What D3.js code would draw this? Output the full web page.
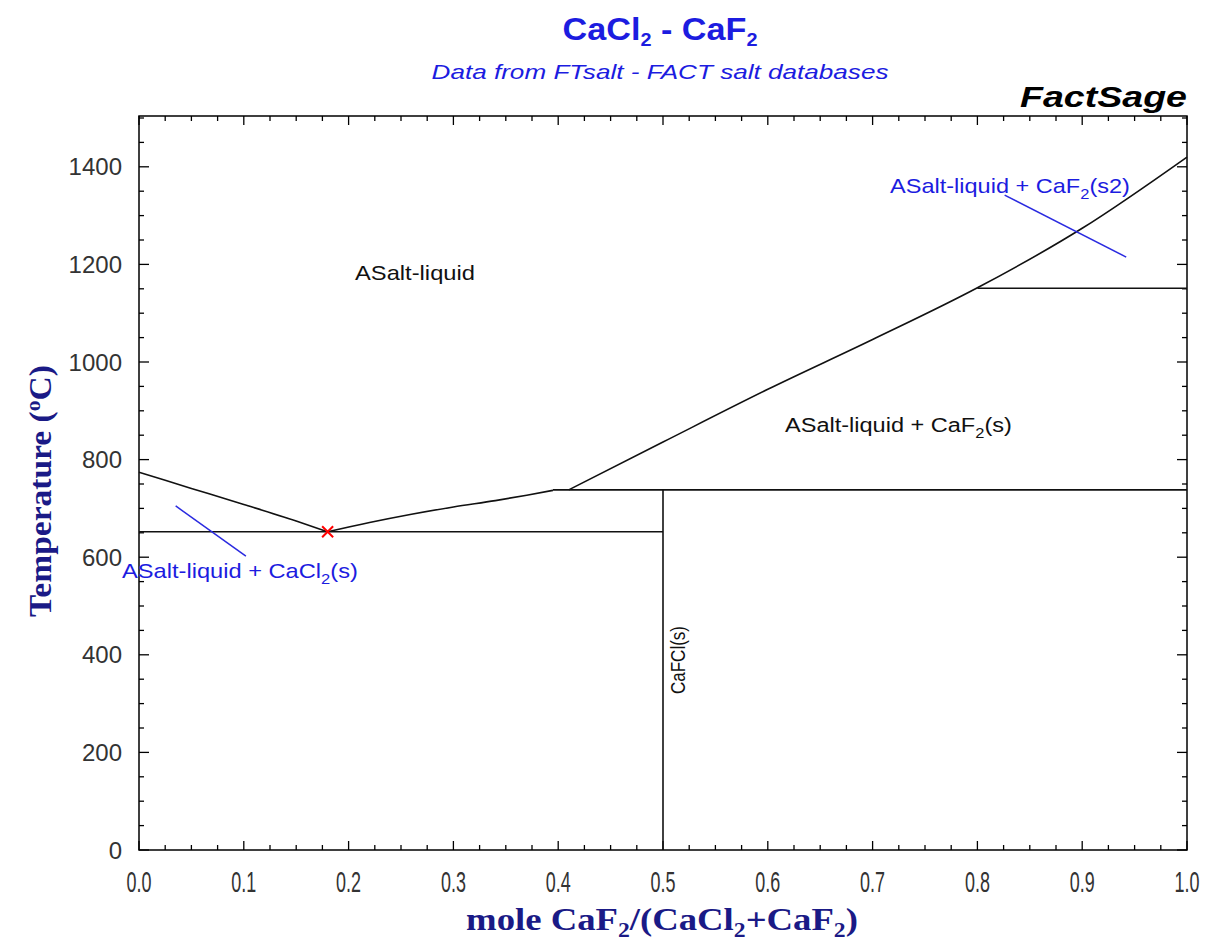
<!DOCTYPE html>
<html>
<head>
<meta charset="utf-8">
<script src="https://cdn.jsdelivr.net/npm/d3@7"></script>
<style>
  body { margin: 0; background: #fff; }
  svg { display: block; }
</style>
</head>
<body>
<div id="chart"></div>
<script>
// ------ Data ------
const xTicks = [0, 0.1, 0.2, 0.3, 0.4, 0.5, 0.6, 0.7, 0.8, 0.9, 1.0];
const yTicks = [0, 200, 400, 600, 800, 1000, 1200, 1400];

// CaCl2 liquidus down to the eutectic
const liqCaCl2 = [[0, 774], [0.05, 741], [0.1, 708], [0.15, 674], [0.18, 652]];
// CaFCl liquidus from eutectic to peritectic
const liqCaFCl = [[0.18, 652], [0.22, 671], [0.26, 688], [0.3, 703], [0.34, 716], [0.37, 727], [0.395, 737]];
// CaF2 liquidus
const liqCaF2 = [[0.41, 738], [0.5, 836], [0.6, 944], [0.7, 1046], [0.8, 1152], [0.9, 1274], [1.0, 1420]];

const eutectic = { x: 0.18, T: 652 };
const invariants = [
  { x1: 0, x2: 0.5, T: 652 },     // eutectic
  { x1: 0.395, x2: 1.0, T: 738 }, // peritectic
  { x1: 0.8, x2: 1.0, T: 1151 }   // CaF2 s -> s2
];
const compound = { x: 0.5, T0: 0, T1: 738 }; // CaFCl

const blueLeaders = [
  [[0.035, 705], [0.102, 602]],
  [[0.826, 1342], [0.942, 1215]]
];

// ------ Layout ------
const W = 1215, H = 943;
const m = { left: 139, right: 1187, top: 116, bottom: 850 };

const svg = d3.select("#chart").append("svg")
  .attr("width", W).attr("height", H);

const x = d3.scaleLinear().domain([0, 1]).range([m.left, m.right]);
const y = d3.scaleLinear().domain([0, 1500]).range([m.bottom, 118]);

const sans = "'Liberation Sans', Arial, sans-serif";
const serif = "'Liberation Serif', 'Times New Roman', serif";
const blue = "#1c1ce0";
const navy = "#1a1a86";

// text placed at an anchor, optionally rotated, stretched to a target width
function txt(ax, ay, opts) {
  const g = svg.append("g");
  const t = g.append("text")
    .attr("text-anchor", opts.anchor || "start")
    .attr("font-family", opts.family || sans)
    .attr("font-size", opts.size || 20)
    .attr("font-weight", opts.weight || "normal")
    .attr("font-style", opts.style || "normal")
    .attr("fill", opts.color || "#111");
  let back = 0;
  (opts.parts || [opts.text]).forEach(p => {
    if (typeof p === "object") {
      t.append("tspan").attr("dy", p.dy + back).attr("font-size", p.fs).text(p.s);
      back = -p.dy;
    } else {
      t.append("tspan").attr("dy", back).text(p);
      back = 0;
    }
  });
  let s = 1;
  if (opts.width) s = opts.width / t.node().getComputedTextLength();
  if (opts.sx) s = opts.sx;
  g.attr("transform", `translate(${ax},${ay}) rotate(${opts.rotate || 0}) scale(${s},1)`);
  return t;
}

// frame
svg.append("rect")
  .attr("x", m.left).attr("y", m.top)
  .attr("width", m.right - m.left).attr("height", m.bottom - m.top)
  .attr("fill", "none").attr("stroke", "#000").attr("stroke-width", 1.5);

// ticks (inward, all four sides)
const xMinor = d3.range(0, 1.0001, 0.025);
const yMinor = d3.range(0, 1501, 50);
const tickG = svg.append("g").attr("stroke", "#000").attr("stroke-width", 1.3);
xMinor.forEach(v => {
  const major = Math.abs(v * 10 - Math.round(v * 10)) < 1e-6;
  const len = major ? 9 : 5;
  tickG.append("line").attr("x1", x(v)).attr("x2", x(v)).attr("y1", m.bottom).attr("y2", m.bottom - len);
  tickG.append("line").attr("x1", x(v)).attr("x2", x(v)).attr("y1", m.top).attr("y2", m.top + len);
});
yMinor.forEach(v => {
  const major = v % 200 === 0;
  const len = major ? 10 : 5;
  tickG.append("line").attr("x1", m.left).attr("x2", m.left + len).attr("y1", y(v)).attr("y2", y(v));
  tickG.append("line").attr("x1", m.right).attr("x2", m.right - len).attr("y1", y(v)).attr("y2", y(v));
});

// tick labels
xTicks.forEach(d => txt(x(d), 892, { text: d.toFixed(1), anchor: "middle", size: 29, sx: 0.62, color: "#333" }));
yTicks.forEach(d => txt(122, y(d) + 8.5, { text: String(d), anchor: "end", size: 24, color: "#333" }));

// ------ Phase boundaries ------
const line = d3.line().x(d => x(d[0])).y(d => y(d[1])).curve(d3.curveMonotoneX);
const plot = svg.append("g").attr("fill", "none").attr("stroke", "#111").attr("stroke-width", 1.6);

[liqCaCl2, liqCaFCl, liqCaF2].forEach(s => plot.append("path").attr("d", line(s)));

invariants.forEach(d => {
  plot.append("line")
    .attr("x1", x(d.x1)).attr("x2", x(d.x2))
    .attr("y1", y(d.T)).attr("y2", y(d.T));
});

plot.append("line")
  .attr("x1", x(compound.x)).attr("x2", x(compound.x))
  .attr("y1", y(compound.T0)).attr("y2", y(compound.T1));

// blue leader lines
blueLeaders.forEach(s => {
  svg.append("line")
    .attr("x1", x(s[0][0])).attr("y1", y(s[0][1]))
    .attr("x2", x(s[1][0])).attr("y2", y(s[1][1]))
    .attr("stroke", "#2a2ae0").attr("stroke-width", 1.5);
});

// eutectic marker
const ex = x(eutectic.x), ey = y(eutectic.T), r = 5.5;
svg.append("path")
  .attr("d", `M${ex - r},${ey - r}L${ex + r},${ey + r}M${ex - r},${ey + r}L${ex + r},${ey - r}`)
  .attr("stroke", "#ff0000").attr("stroke-width", 2);

// ------ Region labels ------
const sub2 = { s: "2", dy: 6, fs: 14 };
txt(355, 280, { text: "ASalt-liquid", size: 20, width: 120 });
txt(785, 432, { parts: ["ASalt-liquid + CaF", sub2, "(s)"], size: 20, width: 227 });
txt(122, 578, { parts: ["ASalt-liquid + CaCl", sub2, "(s)"], size: 20, width: 236, color: blue });
txt(890, 193, { parts: ["ASalt-liquid + CaF", sub2, "(s2)"], size: 20, width: 240, color: blue });
txt(x(0.5) + 22, 660, { text: "CaFCl(s)", anchor: "middle", size: 20, rotate: -90, width: 68 });

// ------ Titles ------
txt(660, 40, {
  parts: ["CaCl", { s: "2", dy: 6, fs: 18 }, " - CaF", { s: "2", dy: 6, fs: 18 }],
  anchor: "middle", size: 31, weight: "bold", color: blue, width: 195
});
txt(660, 79, {
  text: "Data from FTsalt - FACT salt databases",
  anchor: "middle", size: 21, style: "italic", color: blue, width: 457
});
txt(m.right, 107, {
  text: "FactSage", anchor: "end", size: 30, style: "italic", weight: "bold", color: "#000", width: 167
});

// axis titles
txt(662, 930, {
  parts: ["mole CaF", { s: "2", dy: 7, fs: 20 }, "/(CaCl", { s: "2", dy: 7, fs: 20 }, "+CaF", { s: "2", dy: 7, fs: 20 }, ")"],
  anchor: "middle", family: serif, size: 31, weight: "bold", color: navy, width: 392
});
txt(51, 491, {
  parts: ["Temperature (", { s: "o", dy: -11, fs: 20 }, "C)"],
  anchor: "middle", family: serif, size: 31, weight: "bold", color: navy, width: 252, rotate: -90
});
</script>
</body>
</html>
